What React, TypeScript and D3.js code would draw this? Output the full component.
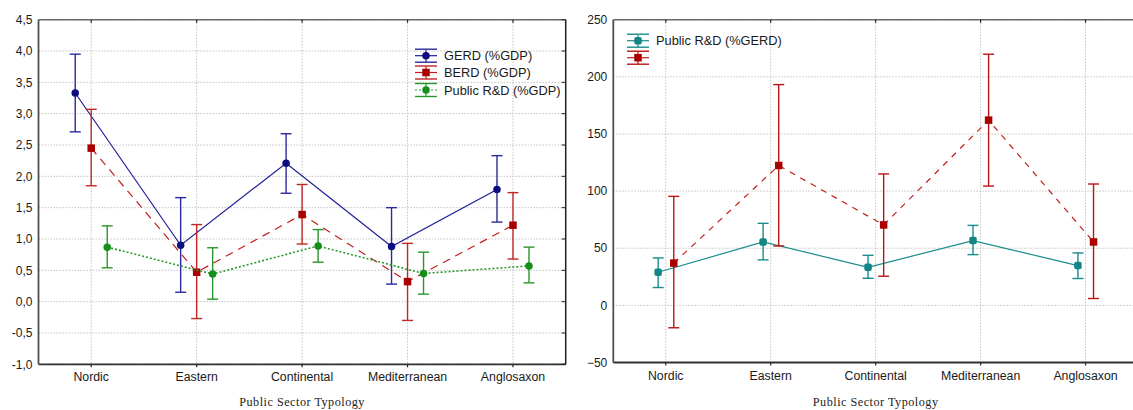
import React from "react";
import * as d3 from "d3";

const categories = ["Nordic", "Eastern", "Continental", "Mediterranean", "Anglosaxon"];

// Left panel (% GDP)
const gerdMean = [3.33, 0.9, 2.21, 0.88, 1.79];
const gerdLo = [2.71, 0.15, 1.73, 0.28, 1.27];
const gerdHi = [3.95, 1.66, 2.68, 1.5, 2.33];
const berdMean = [2.45, 0.47, 1.39, 0.32, 1.22];
const berdLo = [1.85, -0.27, 0.92, -0.3, 0.68];
const berdHi = [3.07, 1.23, 1.87, 0.93, 1.74];
const pubMean = [0.87, 0.44, 0.89, 0.45, 0.57];
const pubLo = [0.54, 0.04, 0.63, 0.12, 0.3];
const pubHi = [1.21, 0.86, 1.15, 0.79, 0.87];
const leftTicks = [-1, -0.5, 0, 0.5, 1, 1.5, 2, 2.5, 3, 3.5, 4, 4.5];

// Right panel (% GERD)
const pubGerdMean = [29, 55.5, 33.3, 56.7, 34.8];
const pubGerdLo = [15.6, 39.8, 23.7, 44.4, 23.5];
const pubGerdHi = [41.5, 71.8, 43.8, 70, 45.9];
const redMean = [37, 122.4, 70.4, 162.1, 55.5];
const redLo = [-19.6, 52, 25.5, 104.4, 6];
const redHi = [95.4, 193.2, 115, 219.8, 106.2];
const rightTicks = [-50, 0, 50, 100, 150, 200, 250];

const xTitle = "Public Sector Typology";

const fmtComma = (v: number) => d3.format(".1f")(v).replace(".", ",").replace("−", "-");

type Series = {
  mean: number[]; lo: number[]; hi: number[];
  offset: number; line: string; bar: string; marker: string;
  dash: string; shape: "circle" | "square" | "rsquare"; size: number;
};

function Panel({ x0, x1, y0, y1, domain, ticks, fmt, series, rightBorder }: any) {
  const x = d3.scalePoint<string>().domain(categories).range([x0, x1]).padding(0.5);
  const y = d3.scaleLinear().domain(domain).range([y1, y0]);
  const gridColor = "#c4c4c4";
  const lineGen = (s: Series) =>
    d3.line<number>().x((_, i) => (x(categories[i]) as number) + s.offset).y((d) => y(d))(s.mean) as string;
  const cap = 5.5;
  return (
    <g>
      {/* grid */}
      {ticks.map((t: number) => (
        <line key={"h" + t} x1={x0} x2={x1} y1={y(t)} y2={y(t)} stroke={gridColor} strokeWidth={1} strokeDasharray="1.5,1.5" />
      ))}
      {categories.map((c) => (
        <line key={"v" + c} x1={x(c)} x2={x(c)} y1={y0} y2={y1} stroke={gridColor} strokeWidth={1} strokeDasharray="1.5,1.5" />
      ))}
      {/* frame */}
      <line x1={x0} x2={x1} y1={y0} y2={y0} stroke="#6a6a6a" strokeWidth={1.5} />
      <line x1={x0} x2={x1} y1={y1} y2={y1} stroke="#303030" strokeWidth={1.8} />
      <line x1={x0} x2={x0} y1={y0} y2={y1} stroke="#505050" strokeWidth={1.8} />
      {rightBorder && <line x1={x1} x2={x1} y1={y0} y2={y1} stroke="#202020" strokeWidth={1.5} />}
      {rightBorder && ticks.map((t: number) => (
        <line key={"rt" + t} x1={x1 - 4} x2={x1} y1={y(t)} y2={y(t)} stroke="#202020" strokeWidth={1} />
      ))}
      {categories.map((c) => (
        <g key={"t" + c}>
          <line x1={x(c)} x2={x(c)} y1={y0} y2={y0 + 3} stroke="#202020" strokeWidth={1.2} />
          <line x1={x(c)} x2={x(c)} y1={y1} y2={y1 + 3} stroke="#202020" strokeWidth={1.2} />
          <text x={x(c)} y={y1 + 17} textAnchor="middle" fontFamily="Liberation Sans, Arial, sans-serif" fontSize={12.3} fill="#1a1a1a">{c}</text>
        </g>
      ))}
      {ticks.map((t: number) => (
        <text key={"yl" + t} x={x0 - 6} y={y(t) + 4.2} textAnchor="end" fontFamily="Liberation Sans, Arial, sans-serif" fontSize={12} fill="#1a1a1a">{fmt(t)}</text>
      ))}
      <text x={(x0 + x1) / 2} y={406} textAnchor="middle" fontFamily="Liberation Serif, Times New Roman, serif" fontSize={12.2} letterSpacing={0.5} fill="#222">{xTitle}</text>
      {/* series */}
      {series.map((s: Series, si: number) => (
        <g key={"s" + si}>
          <path d={lineGen(s)} fill="none" stroke={s.line} strokeWidth={s.dash === "2,2" ? 1.6 : 1.2} strokeDasharray={s.dash} />
          {s.mean.map((m, i) => {
            const cx = (x(categories[i]) as number) + s.offset;
            return (
              <g key={i}>
                <line x1={cx} x2={cx} y1={y(s.lo[i])} y2={y(s.hi[i])} stroke={s.bar} strokeWidth={1.4} />
                <line x1={cx - cap} x2={cx + cap} y1={y(s.lo[i])} y2={y(s.lo[i])} stroke={s.bar} strokeWidth={1.4} />
                <line x1={cx - cap} x2={cx + cap} y1={y(s.hi[i])} y2={y(s.hi[i])} stroke={s.bar} strokeWidth={1.4} />
                {s.shape === "circle" ? (
                  <circle cx={cx} cy={y(m)} r={s.size / 2} fill={s.marker} />
                ) : (
                  <rect x={cx - s.size / 2} y={y(m) - s.size / 2} width={s.size} height={s.size} rx={s.shape === "rsquare" ? 2 : 0} fill={s.marker} />
                )}
              </g>
            );
          })}
        </g>
      ))}
    </g>
  );
}

function LegendItem({ x, y, s, label }: any) {
  const w = 22;
  const cx = x + w / 2;
  return (
    <g>
      <line x1={x} x2={x + w} y1={y - 6.5} y2={y - 6.5} stroke={s.bar} strokeWidth={1.4} />
      <line x1={x} x2={x + w} y1={y + 6.5} y2={y + 6.5} stroke={s.bar} strokeWidth={1.4} />
      <line x1={cx} x2={cx} y1={y - 6.5} y2={y + 6.5} stroke={s.bar} strokeWidth={1.2} />
      <line x1={x} x2={x + w} y1={y} y2={y} stroke={s.line} strokeWidth={1.2} strokeDasharray={s.dash === "2,2" ? "2,2" : undefined} />
      {s.shape === "circle" ? (
        <circle cx={cx} cy={y} r={s.size / 2} fill={s.marker} />
      ) : (
        <rect x={cx - s.size / 2} y={y - s.size / 2} width={s.size} height={s.size} rx={s.shape === "rsquare" ? 2 : 0} fill={s.marker} />
      )}
      {label && (
        <text x={x + w + 7} y={y + 4.5} fontFamily="Liberation Sans, Arial, sans-serif" fontSize={12.8} fill="#1a1a1a">{label}</text>
      )}
    </g>
  );
}

export default function App() {
  const gerd: Series = { mean: gerdMean, lo: gerdLo, hi: gerdHi, offset: -16, line: "#1e1e96", bar: "#2a2a9a", marker: "#0c0c80", dash: "", shape: "circle", size: 7.5 };
  const berd: Series = { mean: berdMean, lo: berdLo, hi: berdHi, offset: 0, line: "#c41e1e", bar: "#c02828", marker: "#a80000", dash: "8,6", shape: "square", size: 7.5 };
  const pub: Series = { mean: pubMean, lo: pubLo, hi: pubHi, offset: 16, line: "#2a9a2a", bar: "#2a962a", marker: "#14901a", dash: "2,2", shape: "circle", size: 7.5 };
  const teal: Series = { mean: pubGerdMean, lo: pubGerdLo, hi: pubGerdHi, offset: -7.6, line: "#1a8c8c", bar: "#1a8c8c", marker: "#138585", dash: "", shape: "rsquare", size: 7.5 };
  const red: Series = { mean: redMean, lo: redLo, hi: redHi, offset: 8, line: "#c41e1e", bar: "#b81414", marker: "#a80000", dash: "6,6", shape: "square", size: 7.5 };
  return (
    <svg width={1133} height={410} style={{ position: "absolute", left: 0, top: 0, background: "#fff" }}>
      <rect x={0} y={0} width={1133} height={410} fill="#fff" />
      <Panel x0={38.5} x1={565.7} y0={19.7} y1={364.3} domain={[-1, 4.5]} ticks={leftTicks} fmt={fmtComma} series={[gerd, berd, pub]} rightBorder={true} />
      <Panel x0={613.3} x1={1138} y0={19.7} y1={362.5} domain={[-50, 250]} ticks={rightTicks} fmt={(v: number) => d3.format("d")(v)} series={[teal, red]} rightBorder={false} />
      <LegendItem x={415} y={55.7} s={gerd} label="GERD (%GDP)" />
      <LegendItem x={415} y={72.5} s={berd} label="BERD (%GDP)" />
      <LegendItem x={415} y={90} s={pub} label="Public R&D (%GDP)" />
      <LegendItem x={627} y={40.7} s={teal} label="Public R&D (%GERD)" />
      <LegendItem x={627} y={57.7} s={red} label="" />
    </svg>
  );
}
